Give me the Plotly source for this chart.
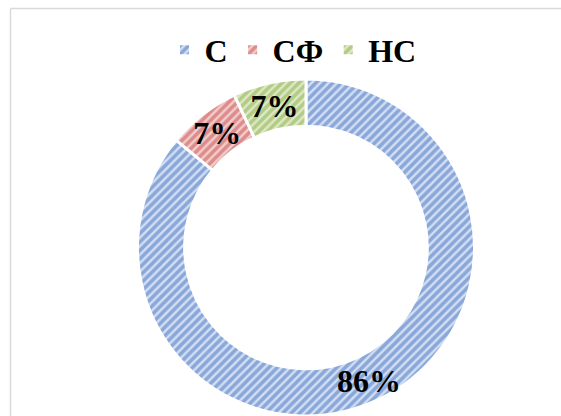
import math
import plotly.graph_objects as go

labels = ["С", "СФ", "НС"]
values = [86, 7, 7]
fg_colors = ["#4170bf", "#c64e4a", "#88ad45"]
bg_colors = ["#d3dff3", "#f2cdcc", "#dde9c5"]

W, H = 561, 416
R = 169
HOLE = 0.72
cx, top = 306, 79
cy = top + R

# label of the first (large) slice is placed at its mid-angle along the ring
total = sum(values)
frac_mid = (values[0] / 2) / total
theta = 2 * math.pi * frac_mid
r_mid = R * (1 + HOLE) / 2 + 2
lx = (cx + r_mid * math.sin(theta)) / W
ly = 1 - (cy - r_mid * math.cos(theta)) / H

fig = go.Figure(go.Pie(
    labels=labels,
    values=values,
    hole=HOLE,
    sort=False,
    direction="clockwise",
    rotation=0,
    texttemplate=["", "%{percent:.0%}", "%{percent:.0%}"],
    textposition="inside",
    insidetextorientation="horizontal",
    textfont=dict(family="Liberation Serif", size=32, color="black", weight="bold"),
    marker=dict(
        colors=bg_colors,
        line=dict(color="white", width=3),
        pattern=dict(shape="/", fgcolor=fg_colors, bgcolor=bg_colors,
                     size=6, solidity=0.6, fillmode="overlay"),
    ),
    hoverinfo="skip",
    domain=dict(x=[(cx - R) / W, (cx + R) / W], y=[0, (H - top) / H]),
))

fig.update_layout(
    width=W, height=H,
    margin=dict(l=0, r=0, t=0, b=0),
    paper_bgcolor="white",
    plot_bgcolor="white",
    uniformtext=dict(minsize=32, mode="show"),
    legend=dict(
        orientation="h",
        x=293 / W, xanchor="center",
        y=1 - 50 / H, yanchor="middle",
        font=dict(family="Liberation Serif", size=32, color="black", weight="bold"),
        itemclick=False, itemdoubleclick=False,
    ),
    annotations=[
        dict(x=lx, y=ly, xref="paper", yref="paper",
             text=f"{round(100 * values[0] / total)}%", showarrow=False,
             font=dict(family="Liberation Serif", size=32, color="black", weight="bold"),
             xanchor="center", yanchor="middle"),
    ],
    shapes=[
        dict(type="line", xref="paper", yref="paper",
             x0=10.5 / W, x1=1.05, y0=1 - 8.5 / H, y1=1 - 8.5 / H,
             line=dict(color="#d9d9d9", width=1.5)),
        dict(type="line", xref="paper", yref="paper",
             x0=10.5 / W, x1=10.5 / W, y0=-0.05, y1=1 - 8.5 / H,
             line=dict(color="#d9d9d9", width=1.5)),
    ],
)

fig.write_html(
    "out.html",
    config={"displayModeBar": False},
    post_script="document.body.style.margin='0';document.body.style.overflow='hidden';",
)
